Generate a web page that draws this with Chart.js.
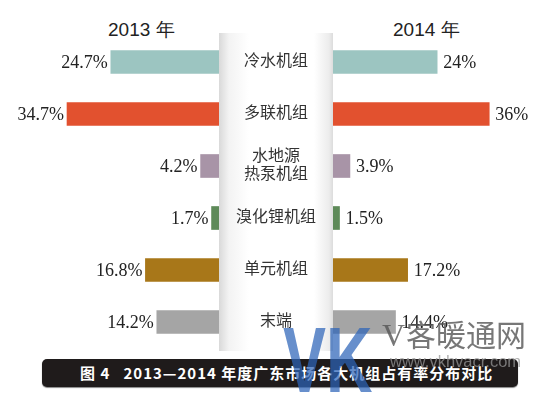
<!DOCTYPE html>
<html>
<head>
<meta charset="utf-8">
<script src="https://cdn.jsdelivr.net/npm/chart.js@4"></script>
<style>
  body { margin: 0; background: #fff; }
  #wrap { position: relative; width: 550px; height: 393px; overflow: hidden; background: #fff; }
  .year { position: absolute; top: 17px; font: 19px "Liberation Sans", Arial, sans-serif; color: #222; white-space: nowrap; }
  #panel { position: absolute; left: 219px; top: 33px; width: 114px; height: 318px;
    background: linear-gradient(to right, #d9d9d9 0px, #f3f3f3 10px, #fff 30px, #fff 95px, #ececec 110px, #dcdcdc 114px); }
  canvas { position: absolute; }
  #caption { position: absolute; left: 42px; top: 359px; width: 476px; height: 28px; background: #1f1b1b;
    border-radius: 5px; box-shadow: 0 1px 1px #888; color: #fff; font: bold 15px "Noto Sans CJK SC", sans-serif;
    letter-spacing: 1px; line-height: 28px; padding-left: 38px; box-sizing: border-box; white-space: pre; }
  .wm { position: absolute; white-space: nowrap; }
</style>
</head>
<body>
<div id="wrap">
  <div class="year" style="left:108px">2013 年</div>
  <div class="year" style="left:393px">2014 年</div>
  <div id="panel"></div>
  <canvas id="left" width="219" height="312" style="left:0;top:36px"></canvas>
  <canvas id="right" width="331" height="312" style="left:219px;top:36px"></canvas>
  <div id="caption">图 4   2013—2014 年度广东市场各大机组占有率分布对比</div>
  <div class="wm" style="left:283px;top:308px;font:bold 92px 'Liberation Sans',sans-serif;color:rgba(45,100,185,0.72);transform:scaleX(0.7);transform-origin:left top">VK</div>
  <div class="wm" style="left:382px;top:317px;font:32px 'Liberation Serif',serif;color:rgba(85,85,85,0.8)">V</div>
  <div class="wm" style="left:406px;top:311px;font:30px 'Noto Sans CJK SC',sans-serif;color:rgba(85,85,85,0.8)">客暖通网</div>
  <div class="wm" style="left:390px;top:352px;font:16.5px 'Liberation Sans',sans-serif;color:rgba(150,150,150,0.75)">www.vkhvacr.com</div>
</div>
<script>
let categories = ['冷水机组', '多联机组', ['水地源', '热泵机组'], '溴化锂机组', '单元机组', '末端'];
let share2013 = [24.7, 34.7, 4.2, 1.7, 16.8, 14.2];
let share2014 = [24, 36, 3.9, 1.5, 17.2, 14.4];
let colors = ['#9cc5c1', '#e2512f', '#a894a7', '#5e8a59', '#a87719', '#a5a5a5'];

// draws the percent next to the end of every bar, and the category names in the middle column
const valueLabels = {
    id: 'valueLabels',
    afterDatasetsDraw(chart, args, opts) {
        const ctx = chart.ctx;
        const ds = chart.data.datasets[0];
        ctx.save();
        ctx.font = '18px "Liberation Serif", "Times New Roman", serif';
        ctx.fillStyle = '#222';
        ctx.textBaseline = 'middle';
        chart.getDatasetMeta(0).data.forEach((bar, i) => {
            const txt = ds.data[i] + '%';
            if (opts.side === 'left') {
                ctx.textAlign = 'right';
                ctx.fillText(txt, bar.x - 3, bar.y + 1);
            } else {
                ctx.textAlign = 'left';
                ctx.fillText(txt, bar.x + 6, bar.y + 1);
            }
        });

        if (opts.side === 'right') {
            const y = chart.scales.y;
            const cx = chart.chartArea.left - 57;
            ctx.font = '16px "Noto Sans CJK SC", sans-serif';
            ctx.fillStyle = '#333';
            ctx.textAlign = 'center';
            ctx.textBaseline = 'alphabetic';
            categories.forEach((cat, i) => {
                const lines = Array.isArray(cat) ? cat : [cat];
                const mid = y.getPixelForValue(i) - 2;
                lines.forEach((line, k) => {
                    const ly = mid + (k - (lines.length - 1) / 2) * 18;
                    ctx.fillText(line, cx, ly + 6);
                });
            });
        }
        ctx.restore();
    }
};

function makeChart(id, values, side) {
    return new Chart(document.getElementById(id), {
        type: 'bar',
        data: {
            labels: categories,
            datasets: [{
                data: values,
                backgroundColor: colors,
                borderWidth: 0,
                barThickness: 23
            }]
        },
        options: {
            indexAxis: 'y',
            responsive: false,
            animation: false,
            layout: { padding: { left: side === 'right' ? 114 : 0 } },
            plugins: {
                legend: { display: false },
                tooltip: { enabled: false },
                valueLabels: { side: side }
            },
            scales: {
                x: {
                    display: false,
                    min: 0,
                    max: 50,
                    reverse: side === 'left'
                },
                y: {
                    display: false
                }
            }
        },
        plugins: [valueLabels]
    });
}

makeChart('left', share2013, 'left');
makeChart('right', share2014, 'right');
</script>
</body>
</html>
